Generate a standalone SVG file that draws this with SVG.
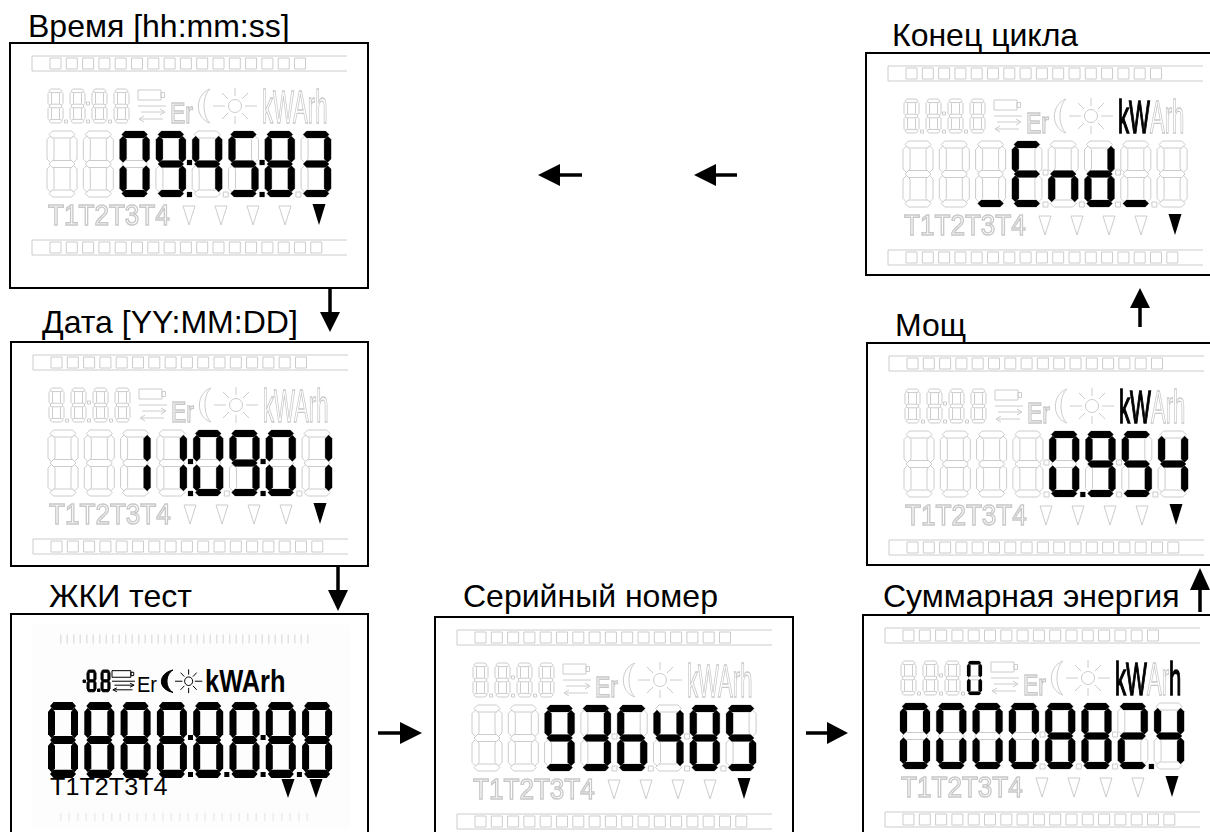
<svg xmlns="http://www.w3.org/2000/svg" xmlns:xlink="http://www.w3.org/1999/xlink" width="1210" height="832" viewBox="0 0 1210 832">
<style>
.box{fill:#fff;stroke:#000;stroke-width:2}
.lbl{font-family:"Liberation Sans",Arial,sans-serif;font-size:32px;fill:#000}
.lt{font-family:"Liberation Sans",Arial,sans-serif}
.off{fill:#fff;stroke:#cccccc;stroke-width:1}
.on{fill:#000;stroke:none}
.blk{fill:#000;stroke:#000;stroke-width:1}
.ln{fill:none;stroke:#cccccc;stroke-width:1}
.toff{fill:#fff;stroke:#c8c8c8;stroke-width:1.4}
.ton{fill:#000;stroke:#000;stroke-width:1.6}
polygon,rect,path,circle{vector-effect:non-scaling-stroke}
.conn line{stroke:#000;stroke-width:3.5}
.conn polygon{fill:#000;stroke:none}
</style>
<defs>
<filter id="gs" x="0" y="0" width="1" height="1"><feColorMatrix type="saturate" values="0"/></filter>
<polygon id="sa" points="2,3.5 5.5,0 24.5,0 28,3.5 24.5,7 5.5,7"/>
<polygon id="sb" points="26.5,5 30,8.5 30,28 26.5,31.5 23,28 23,8.5"/>
<polygon id="sc" points="26.5,34.5 30,38 30,57.5 26.5,61 23,57.5 23,38"/>
<polygon id="sd" points="2,62.5 5.5,59 24.5,59 28,62.5 24.5,66 5.5,66"/>
<polygon id="se" points="3.5,34.5 7,38 7,57.5 3.5,61 0,57.5 0,38"/>
<polygon id="sf" points="3.5,5 7,8.5 7,28 3.5,31.5 0,28 0,8.5"/>
<polygon id="sg" points="2,33 5.5,29.5 24.5,29.5 28,33 24.5,36.5 5.5,36.5"/>
<g id="g8"><use href="#sa"/><use href="#sb"/><use href="#sc"/><use href="#sd"/><use href="#se"/><use href="#sf"/><use href="#sg"/></g>
<g id="g0"><use href="#sa"/><use href="#sb"/><use href="#sc"/><use href="#sd"/><use href="#se"/><use href="#sf"/></g>
<g id="g1"><use href="#sb"/><use href="#sc"/></g>
<g id="g2"><use href="#sa"/><use href="#sb"/><use href="#sd"/><use href="#se"/><use href="#sg"/></g>
<g id="g3"><use href="#sa"/><use href="#sb"/><use href="#sc"/><use href="#sd"/><use href="#sg"/></g>
<g id="g4"><use href="#sb"/><use href="#sc"/><use href="#sf"/><use href="#sg"/></g>
<g id="g5"><use href="#sa"/><use href="#sc"/><use href="#sd"/><use href="#sf"/><use href="#sg"/></g>
<g id="g6"><use href="#sa"/><use href="#sc"/><use href="#sd"/><use href="#se"/><use href="#sf"/><use href="#sg"/></g>
<g id="g9"><use href="#sa"/><use href="#sb"/><use href="#sc"/><use href="#sd"/><use href="#sf"/><use href="#sg"/></g>
<g id="gE"><use href="#sa"/><use href="#sd"/><use href="#se"/><use href="#sf"/><use href="#sg"/></g>
<g id="gn"><use href="#sc"/><use href="#se"/><use href="#sg"/></g>
<g id="gd"><use href="#sb"/><use href="#sc"/><use href="#sd"/><use href="#se"/><use href="#sg"/></g>
<g id="gu"><use href="#sd"/></g>
<g id="batt"><rect x="128" y="47" width="23" height="10" fill="none"/><rect x="151" y="49.5" width="3.5" height="5" fill="none"/><path fill="none" d="M128,63 H156 M131,69 H154 M150,66 L155,69 L150,72 M130,76 H153 M134,73 L129,76 L134,79"/></g>
<path id="moon" d="M200,46 C185,51 184,75 200,80 C192,73 192,53 200,46 Z"/>
<g id="sun"><circle cx="225" cy="63" r="6.5" fill="none"/><path fill="none" d="M225,45 V53 M225,73 V81 M203,63 H215 M235,63 H247 M212,50 L218,56 M232,70 L238,76 M238,50 L232,56 M218,70 L212,76"/></g>
<g id="bars" class="ln">
<path d="M22,13 H337 M22,28 H337 M22,13 V28 M22,197 H337 M22,212 H337 M22,197 V212"/>
<rect x="40" y="15" width="11" height="11"/><rect x="56.3" y="15" width="11" height="11"/><rect x="72.6" y="15" width="11" height="11"/><rect x="88.9" y="15" width="11" height="11"/><rect x="105.2" y="15" width="11" height="11"/><rect x="121.5" y="15" width="11" height="11"/><rect x="137.8" y="15" width="11" height="11"/><rect x="154.1" y="15" width="11" height="11"/><rect x="170.4" y="15" width="11" height="11"/><rect x="186.7" y="15" width="11" height="11"/><rect x="203" y="15" width="11" height="11"/><rect x="219.3" y="15" width="11" height="11"/><rect x="235.6" y="15" width="11" height="11"/><rect x="251.9" y="15" width="11" height="11"/><rect x="268.2" y="15" width="11" height="11"/><rect x="284.5" y="15" width="11" height="11"/>
<rect x="40" y="199" width="11" height="11"/><rect x="56.3" y="199" width="11" height="11"/><rect x="72.6" y="199" width="11" height="11"/><rect x="88.9" y="199" width="11" height="11"/><rect x="105.2" y="199" width="11" height="11"/><rect x="121.5" y="199" width="11" height="11"/><rect x="137.8" y="199" width="11" height="11"/><rect x="154.1" y="199" width="11" height="11"/><rect x="170.4" y="199" width="11" height="11"/><rect x="186.7" y="199" width="11" height="11"/><rect x="203" y="199" width="11" height="11"/><rect x="219.3" y="199" width="11" height="11"/><rect x="235.6" y="199" width="11" height="11"/><rect x="251.9" y="199" width="11" height="11"/><rect x="268.2" y="199" width="11" height="11"/><rect x="284.5" y="199" width="11" height="11"/><rect x="300.8" y="199" width="11" height="11"/>
</g>
<g id="lcdbase">
<use href="#bars"/>
<g class="off">
<use href="#g8" transform="translate(38,46) scale(0.5,0.515)"/>
<use href="#g8" transform="translate(60,46) scale(0.5,0.515)"/>
<use href="#g8" transform="translate(82,46) scale(0.5,0.515)"/>
<use href="#g8" transform="translate(104,46) scale(0.5,0.515)"/>
<rect x="54.5" y="77" width="3" height="3"/><rect x="76.5" y="59" width="3" height="3"/><rect x="76.5" y="77" width="3" height="3"/><rect x="98.5" y="77" width="3" height="3"/>
<use href="#batt"/>
<use href="#moon"/>
<use href="#sun"/>
<polygon points="173,163 185,163 179,182"/><polygon points="205,163 217,163 211,182"/><polygon points="237,163 249,163 243,182"/><polygon points="269,163 281,163 275,182"/>
<use href="#g8" x="37" y="88"/><use href="#g8" x="73.3" y="88"/><use href="#g8" x="109.6" y="88"/><use href="#g8" x="145.9" y="88"/><use href="#g8" x="182.2" y="88"/><use href="#g8" x="218.5" y="88"/><use href="#g8" x="254.8" y="88"/><use href="#g8" x="291.1" y="88"/>
<rect x="177" y="149" width="5" height="5"/><rect x="213.3" y="149" width="5" height="5"/><rect x="249.6" y="149" width="5" height="5"/><rect x="285.9" y="149" width="5" height="5"/>
<rect x="177" y="117" width="5" height="5"/><rect x="249.6" y="117" width="5" height="5"/>
</g>
<g filter="url(#gs)">
<text class="lt toff" font-size="29" transform="translate(160,80) scale(0.79,1)">Er</text>
<text class="lt toff" font-size="29" transform="translate(38,182) scale(0.9,1)">T1T2T3T4</text>
</g>
</g>
</defs>

<text class="lbl" x="28" y="37">Время [hh:mm:ss]</text>
<text class="lbl" x="42" y="333">Дата [YY:MM:DD]</text>
<text class="lbl" x="49" y="607">ЖКИ тест</text>
<text class="lbl" x="463" y="607">Серийный номер</text>
<text class="lbl" x="883" y="607">Суммарная энергия</text>
<text class="lbl" x="895" y="336">Мощ</text>
<text class="lbl" x="892" y="46">Конец цикла</text>

<g id="node-time" transform="translate(10,43)">
<rect class="box" x="0" y="0" width="358" height="245"/>
<use href="#lcdbase"/>
<g filter="url(#gs)"><text class="lt" font-size="47" transform="translate(252,80) scale(0.47,1)"><tspan class="toff">kWArh</tspan></text></g>
<g class="on">
<use href="#g0" x="109.6" y="88"/><use href="#g9" x="145.9" y="88"/><use href="#g4" x="182.2" y="88"/><use href="#g5" x="218.5" y="88"/><use href="#g8" x="254.8" y="88"/><use href="#g3" x="291.1" y="88"/>
<rect x="177" y="149" width="5" height="5"/><rect x="177" y="117" width="5" height="5"/><rect x="249.6" y="149" width="5" height="5"/><rect x="249.6" y="117" width="5" height="5"/>
<polygon points="302.5,161 315.5,161 309,182"/>
</g>
</g>

<g id="node-date" transform="translate(11,342)">
<rect class="box" x="0" y="0" width="357" height="224"/>
<use href="#lcdbase"/>
<g filter="url(#gs)"><text class="lt" font-size="47" transform="translate(252,80) scale(0.47,1)"><tspan class="toff">kWArh</tspan></text></g>
<g class="on">
<use href="#g1" x="109.6" y="88"/><use href="#g1" x="145.9" y="88"/><use href="#g0" x="182.2" y="88"/><use href="#g9" x="218.5" y="88"/><use href="#g0" x="254.8" y="88"/><use href="#g1" x="291.1" y="88"/>
<rect x="177" y="149" width="5" height="5"/><rect x="177" y="117" width="5" height="5"/><rect x="249.6" y="149" width="5" height="5"/><rect x="249.6" y="117" width="5" height="5"/>
<polygon points="302.5,161 315.5,161 309,182"/>
</g>
</g>

<g id="node-lcdtest" transform="translate(11,614)">
<rect class="box" x="0" y="0" width="357" height="240"/>
<rect x="21" y="11" width="318" height="203" fill="#fdfdfd"/>
<line x1="49" y1="25" x2="300" y2="25" stroke="#e2e2e2" stroke-width="9" stroke-dasharray="1.5 5"/>
<line x1="49" y1="203" x2="300" y2="203" stroke="#ececec" stroke-width="8" stroke-dasharray="1.5 7"/>
<g class="blk">
<rect x="72" y="66" width="2.5" height="2.5"/>
<use href="#g8" transform="translate(76,56) scale(0.3,0.33)"/>
<rect x="86.5" y="75" width="2.5" height="2.5"/>
<use href="#g8" transform="translate(90,56) scale(0.3,0.33)"/>
<use href="#batt" transform="translate(101,56) scale(0.82,0.66) translate(-128,-46)"/>
<use href="#moon" transform="translate(149,56) scale(1,0.66) translate(-187,-46)"/>
<use href="#sun" transform="translate(164,56) scale(0.62,0.66) translate(-203,-46)"/>
</g>
<text class="lt" font-size="22" fill="#000" transform="translate(126,78) scale(0.91,1)">Er</text>
<text class="lt" font-size="31" font-weight="bold" fill="#000" transform="translate(194,78) scale(0.82,1)">kWArh</text>
<g class="on">
<use href="#g8" transform="translate(37,88) scale(1,1.15)"/><use href="#g8" transform="translate(73.3,88) scale(1,1.15)"/><use href="#g8" transform="translate(109.6,88) scale(1,1.15)"/><use href="#g8" transform="translate(145.9,88) scale(1,1.15)"/><use href="#g8" transform="translate(182.2,88) scale(1,1.15)"/><use href="#g8" transform="translate(218.5,88) scale(1,1.15)"/><use href="#g8" transform="translate(254.8,88) scale(1,1.15)"/><use href="#g8" transform="translate(291.1,88) scale(1,1.15)"/>
<rect x="177" y="158" width="5" height="5"/><rect x="213.3" y="158" width="5" height="5"/><rect x="249.6" y="158" width="5" height="5"/><rect x="285.9" y="158" width="5" height="5"/>
<rect x="177" y="121" width="5" height="5"/><rect x="249.6" y="121" width="5" height="5"/>
<polygon points="270.5,165 283.5,165 277,184"/><polygon points="298.5,165 311.5,165 305,184"/>
</g>
<text class="lt" font-size="24" fill="#000" transform="translate(39,181) scale(1.05,1)">T1T2T3T4</text>
</g>

<g id="node-serial" transform="translate(435,617)">
<rect class="box" x="0" y="0" width="358" height="240"/>
<use href="#lcdbase"/>
<g filter="url(#gs)"><text class="lt" font-size="47" transform="translate(252,80) scale(0.47,1)"><tspan class="toff">kWArh</tspan></text></g>
<g class="on">
<use href="#g9" x="109.6" y="88"/><use href="#g3" x="145.9" y="88"/><use href="#g6" x="182.2" y="88"/><use href="#g4" x="218.5" y="88"/><use href="#g8" x="254.8" y="88"/><use href="#g5" x="291.1" y="88"/>
<polygon points="302.5,161 315.5,161 309,182"/>
</g>
</g>

<g id="node-energy" transform="translate(863,615)">
<rect class="box" x="0" y="0" width="360" height="240"/>
<use href="#lcdbase"/>
<g filter="url(#gs)"><text class="lt" font-size="47" transform="translate(252,80) scale(0.47,1)"><tspan class="ton">kW</tspan><tspan class="toff">Ar</tspan><tspan class="ton">h</tspan></text></g>
<g class="on">
<use href="#g0" transform="translate(104,46) scale(0.5,0.515)"/>
<use href="#g0" x="37" y="88"/><use href="#g0" x="73.3" y="88"/><use href="#g0" x="109.6" y="88"/><use href="#g0" x="145.9" y="88"/><use href="#g8" x="182.2" y="88"/><use href="#g8" x="218.5" y="88"/><use href="#g2" x="254.8" y="88"/><use href="#g4" x="291.1" y="88"/>
<rect x="285.9" y="149" width="5" height="5"/>
<polygon points="302.5,161 315.5,161 309,182"/>
</g>
</g>

<g id="node-power" transform="translate(867,343)">
<rect class="box" x="0" y="0" width="360" height="222"/>
<use href="#lcdbase"/>
<g filter="url(#gs)"><text class="lt" font-size="47" transform="translate(252,80) scale(0.47,1)"><tspan class="ton">kW</tspan><tspan class="toff">Arh</tspan></text></g>
<g class="on">
<use href="#g0" x="182.2" y="88"/><use href="#g9" x="218.5" y="88"/><use href="#g5" x="254.8" y="88"/><use href="#g4" x="291.1" y="88"/>
<rect x="213.3" y="149" width="5" height="5"/>
<polygon points="302.5,161 315.5,161 309,182"/>
</g>
</g>

<g id="node-end" transform="translate(866,53)">
<rect class="box" x="0" y="0" width="360" height="222"/>
<use href="#lcdbase"/>
<g filter="url(#gs)"><text class="lt" font-size="47" transform="translate(252,80) scale(0.47,1)"><tspan class="ton">kW</tspan><tspan class="toff">Arh</tspan></text></g>
<g class="on">
<use href="#gu" x="109.6" y="88"/><use href="#gE" x="145.9" y="88"/><use href="#gn" x="182.2" y="88"/><use href="#gd" x="218.5" y="88"/><use href="#gu" x="254.8" y="88"/>
<polygon points="302.5,161 315.5,161 309,182"/>
</g>
</g>

<g id="connectors" class="conn">
<line x1="330" y1="288" x2="330" y2="314"/><polygon points="320,312 340,312 330,332"/>
<line x1="338" y1="566" x2="338" y2="592"/><polygon points="328,590 348,590 338,611"/>
<line x1="378" y1="733" x2="402" y2="733"/><polygon points="400,722 400,744 422,733"/>
<line x1="806" y1="733" x2="829" y2="733"/><polygon points="827,722 827,744 848,733"/>
<line x1="1200" y1="612" x2="1200" y2="588"/><polygon points="1190,590 1210,590 1200,568"/>
<line x1="1140" y1="327" x2="1140" y2="306"/><polygon points="1130,308 1150,308 1140,288"/>
<line x1="737" y1="175" x2="714" y2="175"/><polygon points="716,164 716,186 694,175"/>
<line x1="582" y1="175" x2="558" y2="175"/><polygon points="560,164 560,186 538,175"/>
</g>
</svg>
